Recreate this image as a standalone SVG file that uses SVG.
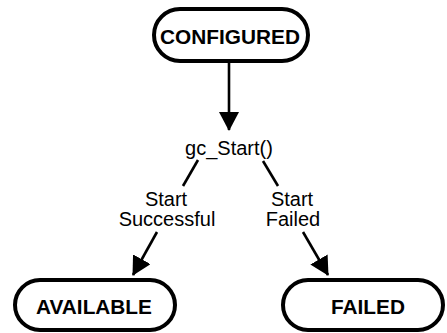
<svg xmlns="http://www.w3.org/2000/svg" width="447" height="333" viewBox="0 0 447 333">
<style>
  .box { fill: #fff; stroke: #000; stroke-width: 4; }
  .state { font-family: "Liberation Sans", Arial, sans-serif; font-weight: bold; font-size: 20.8px; fill: #000; text-anchor: middle; }
  .lbl { font-family: "Liberation Sans", Arial, sans-serif; font-size: 20px; fill: #000; text-anchor: middle; }
  .conn { fill: none; stroke: #000; stroke-width: 2.6; }
</style>
<defs>
  <marker id="ah" viewBox="0 0 19 20" refX="18" refY="10" markerWidth="19" markerHeight="20" markerUnits="userSpaceOnUse" orient="auto">
    <path d="M0,0 L19,10 L0,20 z" fill="#000"/>
  </marker>
</defs>
<rect width="447" height="333" fill="#fff"/>
<g id="connectors">
  <line class="conn" x1="229" y1="63" x2="229" y2="130" marker-end="url(#ah)" stroke-width="3"/>
  <line class="conn" x1="198" y1="160" x2="183" y2="186"/>
  <line class="conn" x1="157" y1="232" x2="133" y2="275" marker-end="url(#ah)"/>
  <line class="conn" x1="263" y1="161" x2="278" y2="186"/>
  <line class="conn" x1="303" y1="232" x2="328" y2="275" marker-end="url(#ah)"/>
  <text class="lbl" x="229" y="155">gc_Start()</text>
  <text class="lbl" x="166" y="206">Start</text>
  <text class="lbl" x="167" y="226">Successful</text>
  <text class="lbl" x="292" y="206">Start</text>
  <text class="lbl" x="293" y="226">Failed</text>
</g>
<g id="configured">
  <rect class="box" x="154" y="9" width="154" height="52" rx="26" ry="26"/>
  <text class="state" x="230" y="44">CONFIGURED</text>
</g>
<g id="available">
  <rect class="box" x="15" y="280" width="160" height="50" rx="25" ry="25"/>
  <text class="state" x="94" y="314">AVAILABLE</text>
</g>
<g id="failed">
  <rect class="box" x="283" y="280" width="160" height="50" rx="25" ry="25"/>
  <text class="state" x="368" y="314">FAILED</text>
</g>
</svg>
